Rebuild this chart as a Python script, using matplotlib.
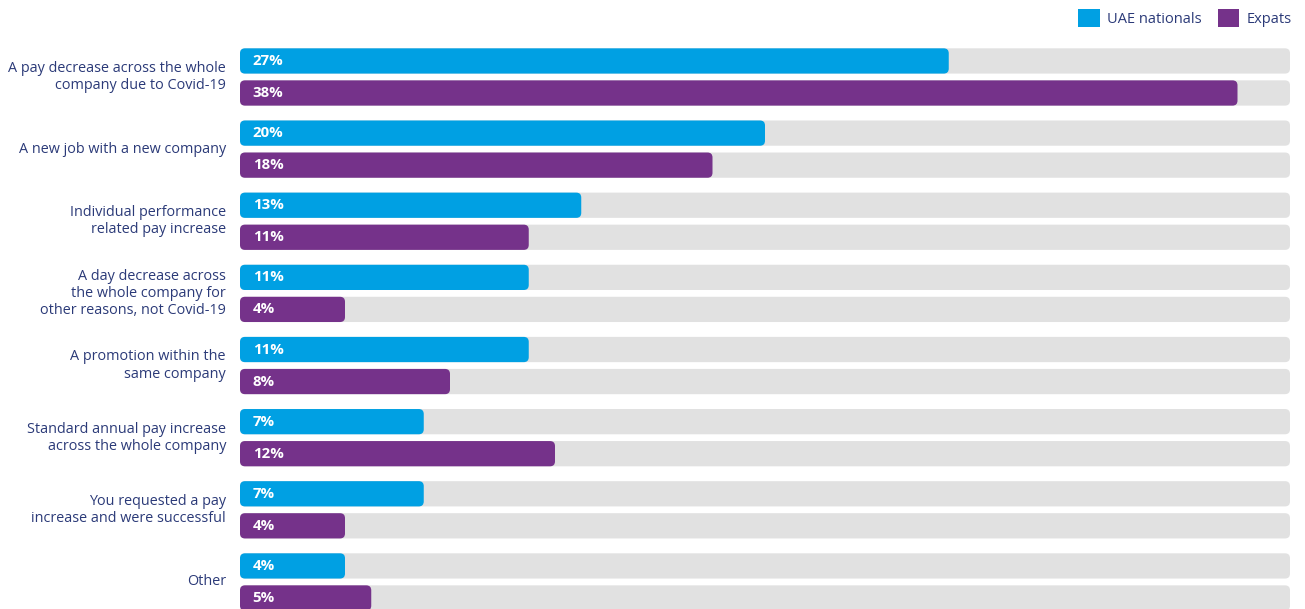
import matplotlib.pyplot as plt
from matplotlib.patches import FancyBboxPatch, Patch

categories = [
    "A pay decrease across the whole\ncompany due to Covid-19",
    "A new job with a new company",
    "Individual performance\nrelated pay increase",
    "A day decrease across\nthe whole company for\nother reasons, not Covid-19",
    "A promotion within the\nsame company",
    "Standard annual pay increase\nacross the whole company",
    "You requested a pay\nincrease and were successful",
    "Other",
]
uae = [27, 20, 13, 11, 11, 7, 7, 4]
expats = [38, 18, 11, 4, 8, 12, 4, 5]
series_names = ["UAE nationals", "Expats"]

BLUE = "#00a0e3"
PURPLE = "#75328a"
GREY = "#e1e1e1"
TEXT = "#2b3a78"
XMAX = 40

plt.rcParams['font.family'] = ['Open Sans', 'DejaVu Sans']

fig = plt.figure(figsize=(13.05, 6.09), dpi=100)
ax = fig.add_axes([240 / 1305, 0, 1050 / 1305, 1])
ax.set_xlim(0, XMAX)
ax.set_ylim(7.375, -1.067)
ax.axis('off')

off = 0.222
h = 0.35
# rounding: ~5px in x data units, scaled for y
rs = 5 * XMAX / 1050
asp = (5 / 72.14) / rs


def rbar(y, w, color, z):
    p = FancyBboxPatch((0, y - h / 2), w, h,
                       boxstyle="round,pad=0,rounding_size=%f" % rs,
                       mutation_aspect=asp, fc=color, ec='none', zorder=z)
    ax.add_patch(p)


for i, cat in enumerate(categories):
    for y, v, c in [(i - off, uae[i], BLUE), (i + off, expats[i], PURPLE)]:
        rbar(y, XMAX, GREY, 1)
        rbar(y, v, c, 2)
        ax.text(0.48, y, "%d%%" % v, color='white', fontsize=10.8,
                fontweight='bold', va='center', ha='left', zorder=3)
    ax.text(-14 * XMAX / 1050, i, cat, ha='right', va='center', fontsize=10.4,
            color=TEXT, linespacing=1.2)

handles = [Patch(fc=BLUE, ec='none'), Patch(fc=PURPLE, ec='none')]
fig.legend(handles, series_names, loc='upper right', bbox_to_anchor=(1.0, 1.007),
           ncol=2, frameon=False, fontsize=10.5, handlelength=1.5,
           handleheight=1.5, handletextpad=0.5, columnspacing=1.1,
           labelcolor=TEXT)

fig.savefig('out.png', dpi=100)
